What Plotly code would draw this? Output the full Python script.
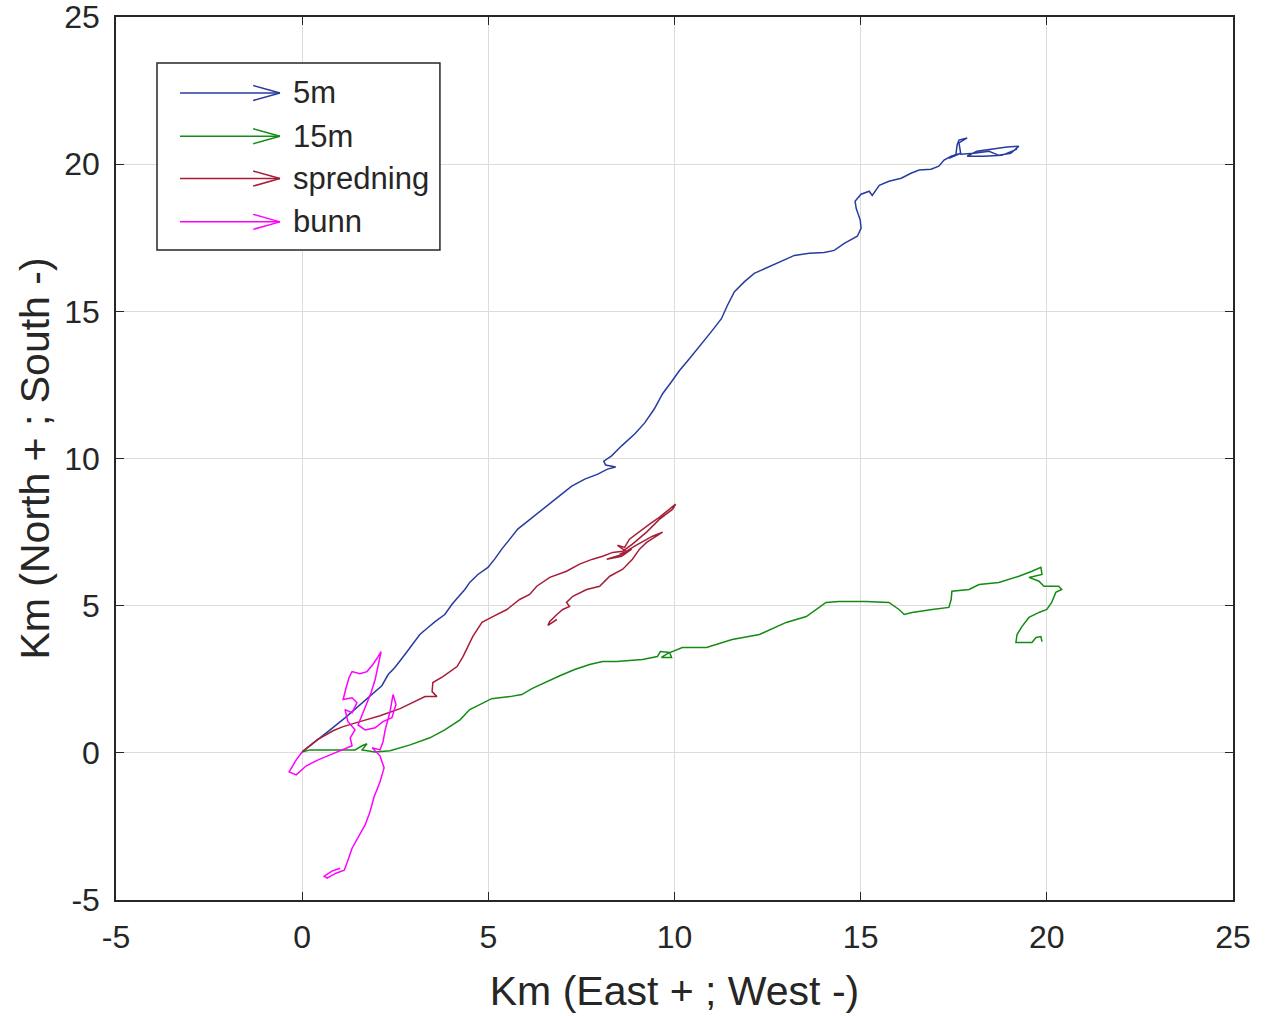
import plotly.graph_objects as go

# ---------------- data (km) ----------------
blue_x = [0.00, 0.35, 0.75, 1.15, 1.55, 1.88, 2.14, 2.31, 2.49, 2.76, 2.95, 3.16, 3.38, 3.57, 3.83, 4.02, 4.18, 4.37, 4.50, 4.72,
          4.99, 5.17, 5.36, 5.58, 5.79, 6.06, 6.38, 6.70, 6.97, 7.24, 7.59, 7.94, 8.20, 8.42, 8.15, 8.10, 8.31, 8.58, 8.93, 9.20,
          9.46, 9.68, 9.92, 10.13, 10.40, 10.67, 10.99, 11.26, 11.42, 11.61, 11.88, 12.14, 12.55, 12.95, 13.22, 13.62, 14.02, 14.29, 14.56, 14.91,
          15.01, 14.99, 14.88, 14.85, 15.01, 15.23, 15.31, 15.50, 15.76, 16.09, 16.35, 16.57, 16.89, 17.10, 17.24, 17.43, 17.69, 17.37, 17.56, 17.59,
          17.64, 17.86, 17.64, 17.69, 18.04, 18.45, 18.71, 19.03, 19.25, 18.93, 18.50, 18.12, 17.86, 18.31, 18.79, 19.20]
blue_y = [0.03, 0.37, 0.78, 1.19, 1.64, 1.98, 2.28, 2.66, 2.90, 3.34, 3.68, 4.02, 4.26, 4.46, 4.70, 5.04, 5.28, 5.55, 5.79, 6.06,
          6.30, 6.58, 6.92, 7.26, 7.60, 7.87, 8.18, 8.52, 8.79, 9.06, 9.30, 9.47, 9.64, 9.71, 9.78, 9.91, 10.09, 10.43, 10.83, 11.21,
          11.69, 12.20, 12.61, 12.98, 13.39, 13.80, 14.31, 14.75, 15.20, 15.67, 16.01, 16.29, 16.52, 16.73, 16.90, 16.97, 17.00, 17.07, 17.31, 17.55,
          17.82, 18.09, 18.50, 18.74, 18.98, 19.08, 18.94, 19.28, 19.42, 19.52, 19.69, 19.80, 19.83, 19.93, 20.14, 20.27, 20.37, 20.20, 20.34, 20.65,
          20.82, 20.89, 20.72, 20.34, 20.37, 20.44, 20.30, 20.37, 20.61, 20.58, 20.51, 20.44, 20.27, 20.27, 20.30, 20.51]

green_x = [0.00, 0.21, 0.88, 1.42, 1.61, 1.74, 1.61, 1.96, 2.36, 2.90, 3.43, 3.83, 4.24, 4.50, 4.77, 5.09, 5.58, 5.90, 6.17, 6.51,
           6.92, 7.32, 7.72, 8.07, 8.45, 9.14, 9.54, 9.62, 9.87, 9.92, 9.65, 9.81, 10.21, 10.86, 11.55, 12.28, 13.00, 13.54, 14.07, 14.42,
           15.15, 15.76, 16.03, 16.17, 16.38, 16.92, 17.37, 17.43, 17.45, 17.91, 18.18, 18.71, 19.25, 19.60, 19.84, 19.87, 19.52, 19.79, 19.92, 20.32,
           20.40, 20.24, 20.13, 20.00, 19.79, 19.52, 19.33, 19.20, 19.17, 19.60, 19.71, 19.84, 19.87]
green_y = [0.03, 0.10, 0.10, 0.10, 0.24, 0.31, 0.10, 0.03, 0.07, 0.27, 0.51, 0.78, 1.12, 1.47, 1.64, 1.84, 1.91, 1.98, 2.18, 2.39,
           2.62, 2.83, 3.00, 3.10, 3.10, 3.17, 3.27, 3.44, 3.41, 3.24, 3.24, 3.37, 3.58, 3.58, 3.85, 4.02, 4.43, 4.63, 5.11, 5.14,
           5.14, 5.11, 4.87, 4.70, 4.77, 4.87, 4.94, 5.21, 5.49, 5.55, 5.72, 5.79, 6.00, 6.17, 6.30, 6.06, 5.96, 5.83, 5.66, 5.66,
           5.55, 5.45, 5.11, 4.87, 4.77, 4.60, 4.29, 4.02, 3.75, 3.75, 3.92, 3.95, 3.78]

red_x = [0.00, 0.40, 0.83, 1.10, 1.55, 2.09, 2.63, 3.11, 3.30, 3.62, 3.49, 3.51, 3.78, 4.16, 4.32, 4.58, 4.83, 5.12, 5.50, 5.84,
         6.11, 6.30, 6.65, 7.10, 7.45, 7.80, 8.07, 8.34, 8.61, 8.87, 9.25, 9.60, 9.95, 10.03, 9.81, 9.60, 9.33, 9.06, 8.79, 8.66,
         8.47, 8.74, 8.53, 8.85, 8.58, 8.18, 8.53, 8.93, 9.41, 9.68, 9.46, 9.25, 9.06, 8.87, 8.61, 8.26, 7.99, 7.64, 7.27, 7.10,
         7.18, 7.00, 6.84, 6.65, 6.60, 6.84]
red_y = [0.03, 0.44, 0.75, 0.89, 1.06, 1.26, 1.50, 1.81, 1.91, 1.91, 2.08, 2.39, 2.59, 2.93, 3.27, 3.95, 4.43, 4.63, 4.87, 5.21,
         5.38, 5.66, 5.96, 6.17, 6.41, 6.58, 6.68, 6.81, 6.85, 7.09, 7.50, 7.94, 8.28, 8.45, 8.21, 8.01, 7.77, 7.53, 7.26, 6.98,
         7.05, 6.81, 6.75, 6.92, 6.68, 6.58, 6.71, 7.02, 7.36, 7.50, 7.33, 7.15, 6.92, 6.58, 6.24, 6.00, 5.66, 5.55, 5.32, 5.11,
         4.97, 4.87, 4.70, 4.46, 4.33, 4.53]

mag_x = [0.00, -0.16, -0.35, -0.16, 0.11, 0.43, 0.75, 1.07, 1.34, 1.29, 1.42, 1.23, 1.15, 1.34, 1.47, 1.34, 1.10, 1.18, 1.26, 1.34,
         1.55, 1.74, 1.90, 2.04, 2.12, 2.04, 1.96, 1.85, 1.72, 1.61, 1.50, 1.69, 1.96, 2.17, 2.41, 2.52, 2.44, 2.36, 2.23, 2.17,
         2.09, 1.88, 2.09, 2.20, 2.09, 1.93, 1.82, 1.69, 1.50, 1.34, 1.23, 1.13, 0.91, 0.67, 0.59, 0.80, 1.02]
mag_y = [0.03, -0.24, -0.65, -0.75, -0.44, -0.24, -0.07, 0.10, 0.24, 0.51, 0.78, 1.06, 1.47, 1.36, 1.70, 1.87, 1.81, 2.21, 2.56, 2.76,
         2.69, 2.76, 3.00, 3.27, 3.44, 2.96, 2.49, 2.04, 1.64, 1.29, 0.95, 0.78, 0.85, 1.06, 1.19, 1.64, 1.98, 1.40, 0.78, 0.37,
         0.10, 0.17, -0.10, -0.51, -0.99, -1.50, -2.01, -2.45, -2.86, -3.24, -3.65, -3.99, -4.09, -4.26, -4.19, -4.02, -3.92]

series_names = ["5m", "15m", "spredning", "bunn"]
series_colors = ["rgb(40,60,160)", "rgb(20,140,20)", "rgb(165,30,55)", "rgb(255,0,255)"]

x_ticks = [-5, 0, 5, 10, 15, 20, 25]
y_ticks = [-5, 0, 5, 10, 15, 20, 25]

# ---------------- figure ----------------
FONT = "Liberation Sans, Arial, sans-serif"
TXT = "#262626"

fig = go.Figure()
for xs, ys, name, col in [(blue_x, blue_y, series_names[0], series_colors[0]),
                          (green_x, green_y, series_names[1], series_colors[1]),
                          (red_x, red_y, series_names[2], series_colors[2]),
                          (mag_x, mag_y, series_names[3], series_colors[3])]:
    fig.add_trace(go.Scatter(x=xs, y=ys, mode="lines", name=name,
                             line=dict(color=col, width=1.5), showlegend=False))

# custom legend with arrows (paper coordinates)
shapes = [dict(type="rect", xref="paper", yref="paper", x0=0.0367, x1=0.290, y0=0.736, y1=0.948,
               line=dict(color=TXT, width=1.5), fillcolor="white", layer="above")]
annotations = []
row_y = [0.914, 0.865, 0.817, 0.768]
x_start, x_end = 0.0573, 0.1468
for name, col, yy in zip(series_names, series_colors, row_y):
    shapes.append(dict(type="line", xref="paper", yref="paper", x0=x_start, x1=x_end, y0=yy, y1=yy,
                       line=dict(color=col, width=1.5), layer="above"))
    shapes.append(dict(type="line", xref="paper", yref="paper", x0=x_end - 0.024, x1=x_end, y0=yy + 0.0085, y1=yy,
                       line=dict(color=col, width=1.5), layer="above"))
    shapes.append(dict(type="line", xref="paper", yref="paper", x0=x_end - 0.024, x1=x_end, y0=yy - 0.0085, y1=yy,
                       line=dict(color=col, width=1.5), layer="above"))
    annotations.append(dict(xref="paper", yref="paper", x=0.1566, y=yy, text=name, showarrow=False,
                            xanchor="left", yanchor="middle", font=dict(family=FONT, size=31, color=TXT)))

fig.update_layout(
    width=1267, height=1016,
    margin=dict(l=116, r=34, t=17, b=116, autoexpand=False),
    paper_bgcolor="white", plot_bgcolor="white",
    font=dict(family=FONT, color=TXT, size=28),
    shapes=shapes, annotations=annotations,
    showlegend=False,
)
fig.update_xaxes(
    range=[-5, 25], tickvals=x_ticks, ticktext=[str(v) for v in x_ticks],
    showgrid=True, gridcolor="#dcdcdc", gridwidth=1, zeroline=False,
    showline=True, linecolor=TXT, linewidth=1.5, mirror="ticks",
    ticks="inside", ticklen=8, tickcolor=TXT, tickwidth=1,
    tickfont=dict(family=FONT, size=32, color=TXT), ticklabelstandoff=8,
    ticklabeloverflow="allow", automargin=False,
    title=dict(text="Km (East + ; West -)", font=dict(family=FONT, size=41, color=TXT), standoff=22),
)
fig.update_yaxes(
    range=[-5, 25], tickvals=y_ticks, ticktext=[str(v) for v in y_ticks],
    showgrid=True, gridcolor="#dcdcdc", gridwidth=1, zeroline=False,
    showline=True, linecolor=TXT, linewidth=1.5, mirror="ticks",
    ticks="inside", ticklen=8, tickcolor=TXT, tickwidth=1,
    tickfont=dict(family=FONT, size=32, color=TXT), ticklabelstandoff=8,
    ticklabeloverflow="allow", automargin=False,
    title=dict(text="Km (North + ; South -)", font=dict(family=FONT, size=41, color=TXT), standoff=2),
)

fig.write_html("out.html")
